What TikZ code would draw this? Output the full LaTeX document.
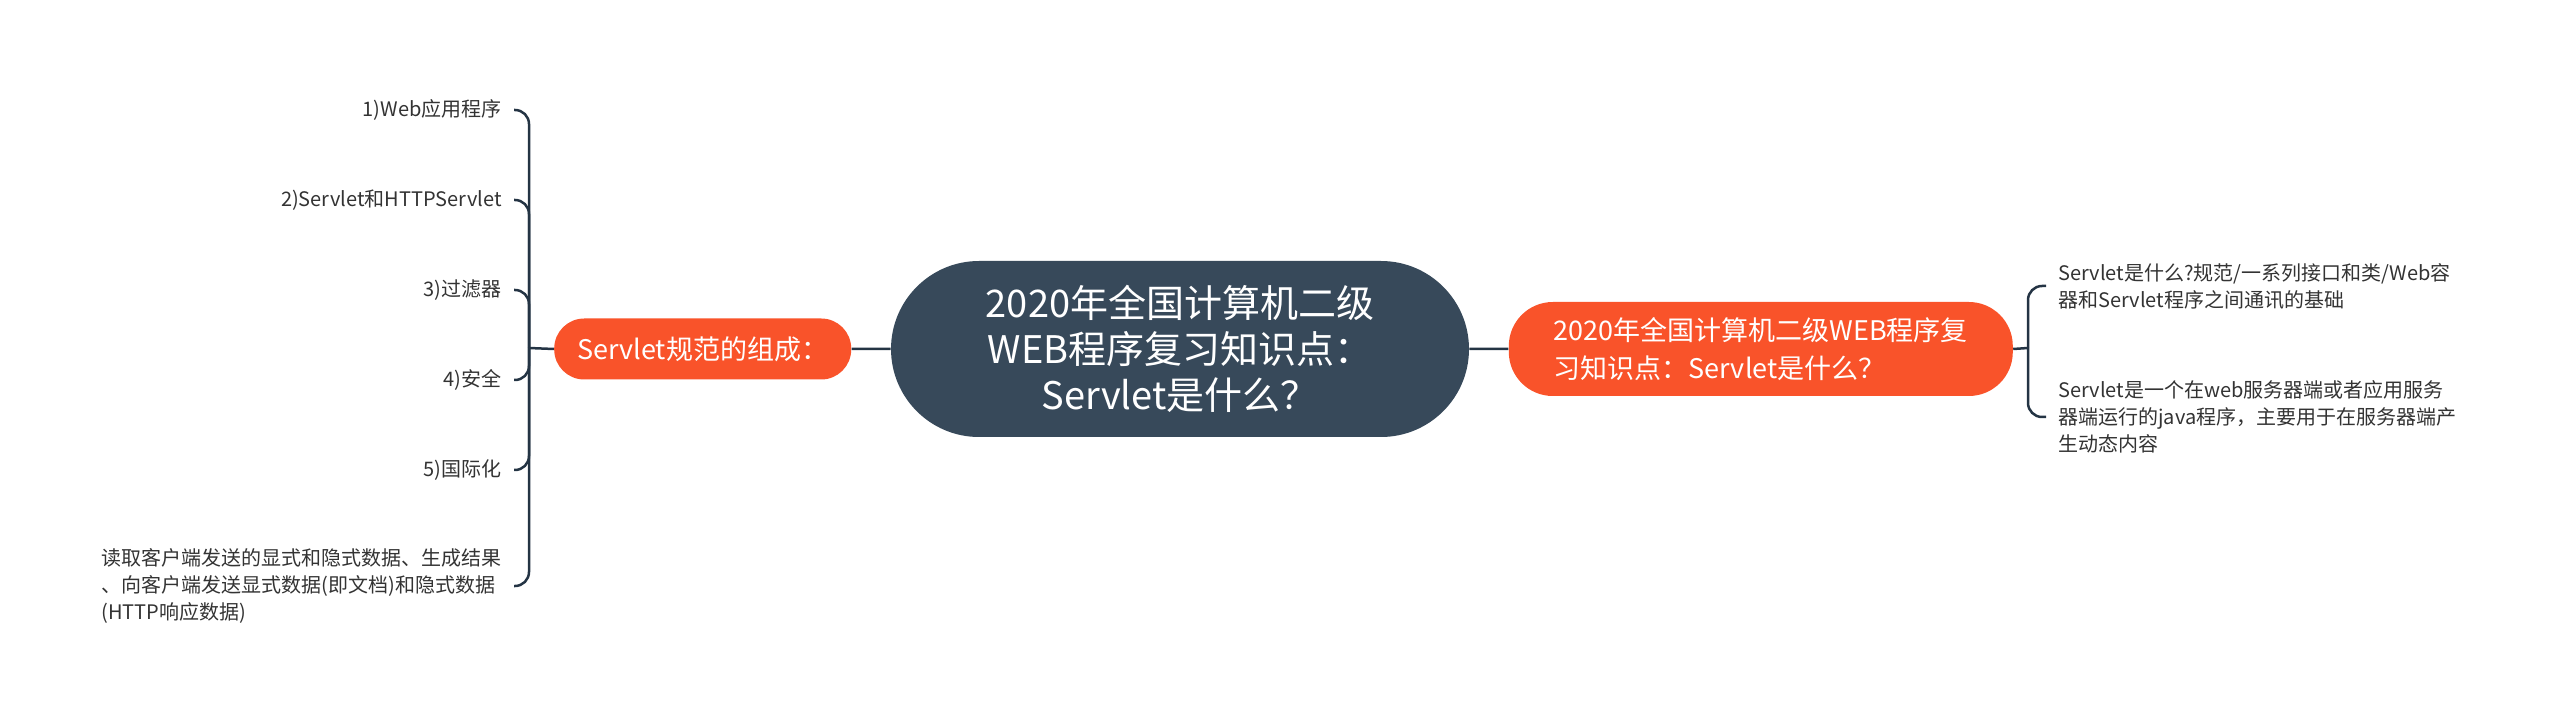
\documentclass[tikz,border=0pt]{standalone}
\usepackage{fontspec}
\setmainfont{Noto Sans CJK SC}
\usepackage{tikz}
\usetikzlibrary{positioning}
\usepackage{xcolor}
\definecolor{slate}{HTML}{37495A}
\definecolor{flame}{HTML}{F9532A}
\definecolor{wire}{HTML}{243444}
\definecolor{ink}{HTML}{333333}

\begin{document}
\begin{tikzpicture}[x=0.5pt, y=-0.5pt,
    centre/.style={fill=slate, text=white, rounded corners=44pt, minimum width=289pt,
      minimum height=88pt, align=center, font=\fontsize{19}{23}\selectfont},
    branch/.style={fill=flame, text=white, rounded corners=15pt, minimum height=30.5pt,
      inner xsep=5pt, font=\fontsize{13.5}{19}\selectfont},
    leaf/.style={text=ink, inner xsep=6pt, inner ysep=2pt, font=\fontsize{10}{13.5}\selectfont},
    link/.style={draw=wire, line width=1.25pt, rounded corners=7pt}]
  \useasboundingbox (0,0) rectangle (2560,721);
  \node[centre]  (root) at (1180,349) {2020年全国计算机二级\\WEB程序复习知识点：\\Servlet是什么？};
  \node[branch, minimum width=148.5pt] (comp) [left=19.5pt of root] {Servlet规范的组成：};
  \node[branch, align=left, minimum height=47pt, rounded corners=22pt, minimum width=252pt]
                 (what) [right=19.5pt of root] {2020年全国计算机二级WEB程序复\\习知识点：Servlet是什么？};
  % left leaves
  \node[leaf, anchor=east] (l1) at (514,110) {1)Web应用程序};
  \node[leaf, anchor=east] (l2) at (514,200) {2)Servlet和HTTPServlet};
  \node[leaf, anchor=east] (l3) at (514,290) {3)过滤器};
  \node[leaf, anchor=east] (l4) at (514,380) {4)安全};
  \node[leaf, anchor=east] (l5) at (514,470) {5)国际化};
  \node[leaf, anchor=east, align=left] (l6) at (514,586)
    {读取客户端发送的显式和隐式数据、生成结果\\、向客户端发送显式数据(即文档)和隐式数据\\(HTTP响应数据)};
  % right leaves
  \node[leaf, anchor=west, align=left] (r1) at (2046,286)
    {Servlet是什么?规范/一系列接口和类/Web容\\器和Servlet程序之间通讯的基础};
  \node[leaf, anchor=west, align=left] (r2) at (2046,417)
    {Servlet是一个在web服务器端或者应用服务\\器端运行的java程序，主要用于在服务器端产\\生动态内容};
  \coordinate (jl) at (529,348);
  \coordinate (jr) at (2028,348);
  \path[link] (comp) -- (root)
              (root) -- (what)
              (comp.west) -- (jl)
              (what.east) -- (jr);
  \foreach \n in {l1,l2,l3,l4,l5,l6}
    \draw[link] (jl) |- (\n.east);
  \foreach \n in {r1,r2}
    \draw[link] (jr) |- (\n.west);
\end{tikzpicture}
\end{document}
